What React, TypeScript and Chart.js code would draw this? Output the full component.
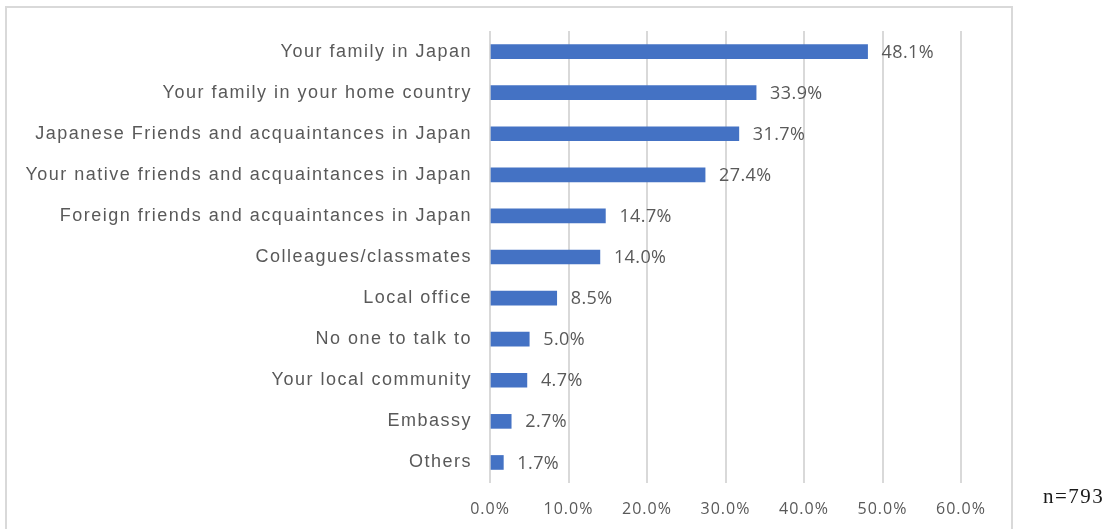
import React, { useEffect, useRef } from "react";
import { Chart, registerables } from "chart.js";

Chart.register(...registerables);

const categories = [
  "Your family in Japan",
  "Your family in your home country",
  "Japanese Friends and acquaintances in Japan",
  "Your native friends and acquaintances in Japan",
  "Foreign friends and acquaintances in Japan",
  "Colleagues/classmates",
  "Local office",
  "No one to talk to",
  "Your local community",
  "Embassy",
  "Others",
];
const values = [48.1, 33.9, 31.7, 27.4, 14.7, 14.0, 8.5, 5.0, 4.7, 2.7, 1.7];
const xMin = 0;
const xMax = 60;
const xStep = 10;
const sampleNote = "n=793";

const W = 1109;
const H = 529;

const framePlugin = {
  id: "frame",
  afterLayout(chart: any) {
    const s = chart.scales.x;
    if (s && !s.__wrapped) {
      const orig = s.drawLabels.bind(s);
      s.drawLabels = (a: any) => {
        const ctx = chart.ctx;
        const prev = ctx.letterSpacing;
        ctx.letterSpacing = "1px";
        orig(a);
        ctx.letterSpacing = prev;
      };
      s.__wrapped = true;
    }
  },
  beforeDraw(chart: any) {
    const ctx = chart.ctx;
    ctx.save();
    ctx.strokeStyle = "#d9d9d9";
    ctx.lineWidth = 2;
    ctx.beginPath();
    ctx.moveTo(6, H);
    ctx.lineTo(6, 7);
    ctx.lineTo(1012, 7);
    ctx.lineTo(1012, H);
    ctx.stroke();
    ctx.restore();
    ctx.letterSpacing = "1.5px";
  },
  afterDatasetsDraw(chart: any) {
    const ctx = chart.ctx;
    const meta = chart.getDatasetMeta(0);
    ctx.save();
    ctx.letterSpacing = "0.4px";
    ctx.font = '18px "Open Sans"';
    ctx.fillStyle = "#595959";
    ctx.textAlign = "left";
    ctx.textBaseline = "middle";
    meta.data.forEach((bar: any, i: number) => {
      ctx.fillText(values[i].toFixed(1) + "%", bar.x + 14, bar.y + 1);
    });
    ctx.restore();
  },
  afterDraw(chart: any) {
    const ctx = chart.ctx;
    ctx.save();
    ctx.letterSpacing = "1.5px";
    ctx.font = '21px "Liberation Serif"';
    ctx.fillStyle = "#1a1a1a";
    ctx.textAlign = "left";
    ctx.textBaseline = "alphabetic";
    ctx.fillText(sampleNote, 1043, 503);
    ctx.restore();
  },
};

export default function App() {
  const ref = useRef<HTMLCanvasElement>(null);
  useEffect(() => {
    if (!ref.current) return;
    const chart = new Chart(ref.current, {
      type: "bar",
      data: {
        labels: categories,
        datasets: [
          {
            data: values,
            backgroundColor: "#4472C4",
            barThickness: 14,
          },
        ],
      },
      options: {
        indexAxis: "y",
        responsive: false,
        animation: false,
        devicePixelRatio: 1,
        layout: { padding: { left: 0, top: 31, right: 148, bottom: 0 } },
        plugins: {
          legend: { display: false },
          tooltip: { enabled: false },
        },
        scales: {
          x: {
            min: xMin,
            max: xMax,
            ticks: {
              stepSize: xStep,
              callback: (v: any) => Number(v).toFixed(1) + "%",
              font: { family: "Open Sans", size: 16 },
              color: "#595959",
              padding: 17,
              maxRotation: 0,
            },
            grid: { color: "#d9d9d9", lineWidth: 2, drawTicks: false },
            border: { display: false },
            afterFit: (s: any) => {
              s.height = 46;
            },
          },
          y: {
            ticks: {
              font: { family: "Liberation Sans", size: 18 },
              color: "#595959",
              padding: 18,
              autoSkip: false,
            },
            grid: { display: false, drawTicks: false },
            border: { display: false },
            afterFit: (s: any) => {
              s.width = 490;
            },
          },
        },
      },
      plugins: [framePlugin],
    } as any);
    return () => chart.destroy();
  }, []);
  return (
    <div style={{ position: "absolute", left: 0, top: 0, width: W, height: H, background: "#fff" }}>
      <canvas ref={ref} width={W} height={H} style={{ display: "block", width: W, height: H }} />
    </div>
  );
}
